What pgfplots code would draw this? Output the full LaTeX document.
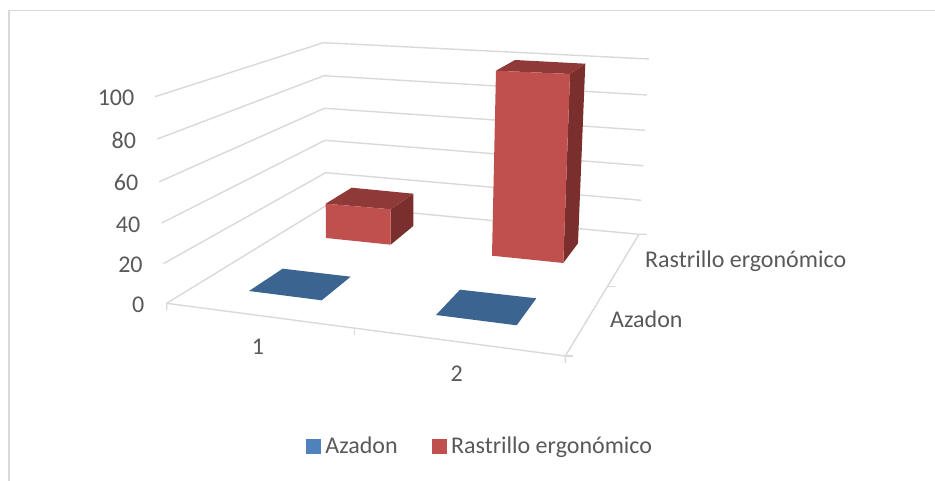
\documentclass[border=0pt]{standalone}
\usepackage{fontspec}
\setmainfont{Carlito}
\usepackage{pgfplots}
\pgfplotsset{compat=1.18}
\definecolor{gridgray}{HTML}{D9D9D9}
\definecolor{textgray}{HTML}{595959}
\definecolor{azadonLegend}{HTML}{4F81BD}
\definecolor{azadonTop}{HTML}{3C6491}
\definecolor{rastrilloFront}{HTML}{C0504D}
\definecolor{rastrilloTop}{HTML}{8F3A38}
\definecolor{rastrilloSide}{HTML}{7B2F2D}
% one filled face of a projected 3D bar
\newcommand{\face}[2]{\addplot[fill=#1,draw=none,forget plot] coordinates {#2} --cycle;}
% one straight rule of the projected box
\newcommand{\rulepath}[1]{\addplot[gridgray,line width=1.4pt,forget plot] coordinates {#1};}
\begin{document}
\begin{tikzpicture}
\begin{axis}[
  scale only axis, width=935pt, height=481pt,
  xmin=0, xmax=935, ymin=0, ymax=481, y dir=reverse,
  hide axis, clip=false,
  font=\fontsize{24}{26}\selectfont,
  text=textgray,
  legend columns=2,
  legend cell align=left,
  legend style={at={(axis cs:306,446)}, anchor=west, draw=none, fill=none,
    inner sep=0pt, outer sep=0pt, text=textgray,
    font=\fontsize{24}{26}\selectfont,
    /tikz/every even column/.append style={column sep=32pt}},
]
\path[use as bounding box] (axis cs:0,0) rectangle (axis cs:935,481);
% outer frame, top and left only
\rulepath{(9,481) (9,10.7) (935,10.7)}
% walls: grid lines for 100, 80, 60, 40, 20
\rulepath{(155,96.7) (323.3,42.7) (649,59)}
\rulepath{(157.3,139) (324,75.7) (647,95)}
\rulepath{(159.3,181.7) (324.3,108.3) (645,130.3)}
\rulepath{(161.7,223) (325,140.3) (643.3,165.7)}
\rulepath{(163.3,263.7) (325.7,172.7) (641.3,200.3)}
% floor outline with tick marks
\rulepath{(166.7,303.3) (327,205) (639,234.3) (646.7,234.3)}
\rulepath{(639,234.3) (565.3,356)}
\rulepath{(166.7,310) (166.7,303.3) (565.3,356) (565.3,363.3)}
\rulepath{(565.3,356) (572.7,356)}
\rulepath{(354.3,328.3) (354.3,335)}
\rulepath{(608.3,286.7) (615,286.7)}
% Azadon: both values are zero, only the flat tops show
\face{azadonTop}{(249,291) (282.7,268.7) (350.7,276.7) (321.7,300.3)}
\face{azadonTop}{(436,315) (460,289.7) (536.3,298.3) (516.7,325.3)}
% Rastrillo ergonomico, category 1
\face{rastrilloSide}{(390.7,209.3) (413.3,193.7) (413.3,226) (390.7,244.7)}
\face{rastrilloTop}{(325.7,203.7) (351.7,187.7) (413.3,193.7) (390.7,209.3)}
\face{rastrilloFront}{(325.7,203.7) (390.7,209.3) (390.7,244.7) (326,238)}
% Rastrillo ergonomico, category 2
\face{rastrilloSide}{(570,74) (585.3,63.7) (578,243.3) (563.3,263)}
\face{rastrilloTop}{(496,70.7) (515,60) (585.3,63.7) (570,74)}
\face{rastrilloFront}{(496,70.7) (570,74) (563.3,263) (492,255.7)}
% value labels
\node[anchor=east,inner sep=0pt] at (axis cs:134.5,97.7) {100};
\node[anchor=east,inner sep=0pt] at (axis cs:136.2,140.7) {80};
\node[anchor=east,inner sep=0pt] at (axis cs:138.5,182.7) {60};
\node[anchor=east,inner sep=0pt] at (axis cs:140.5,224.7) {40};
\node[anchor=east,inner sep=0pt] at (axis cs:142.8,265) {20};
\node[anchor=east,inner sep=0pt] at (axis cs:144.5,304.3) {0};
% category labels
\node[inner sep=0pt] at (axis cs:258,347) {1};
\node[inner sep=0pt] at (axis cs:456.7,374) {2};
% depth labels
\node[anchor=base west,inner sep=0pt] at (axis cs:645,267.3) {Rastrillo ergonómico};
\node[anchor=base west,inner sep=0pt] at (axis cs:610,327.3) {Azadon};
% legend keys
\addlegendimage{legend image code/.code={\fill[azadonLegend] (0pt,-7pt) rectangle (14pt,7pt); \path (17pt,0pt);}}
\addlegendentry{Azadon}
\addlegendimage{legend image code/.code={\fill[rastrilloFront] (0pt,-7pt) rectangle (14pt,7pt); \path (17pt,0pt);}}
\addlegendentry{Rastrillo ergonómico}
\end{axis}
\end{tikzpicture}
\end{document}
